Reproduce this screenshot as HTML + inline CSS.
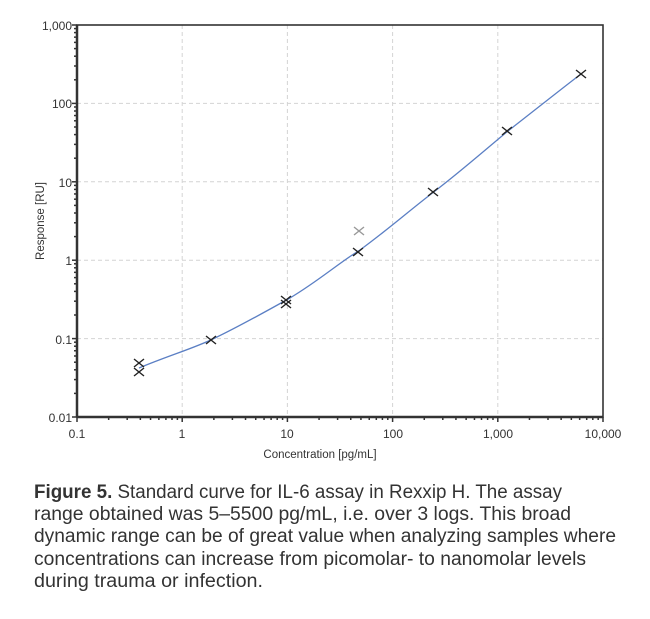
<!DOCTYPE html>
<html><head><meta charset="utf-8"><style>
body{margin:0;background:#fff;width:650px;height:619px;overflow:hidden}
svg{position:absolute;left:0;top:0}
</style></head><body>
<svg id="s" width="650" height="619" xmlns="http://www.w3.org/2000/svg" font-family="Liberation Sans, sans-serif">
<g id="grid" stroke="#d4d4d4" stroke-dasharray="4,3" stroke-width="1"></g>
<path d="M139,368 C170,355 195,348 215,338 C240,326 265,312 290,298 C320,280 340,262 360,250 C390,228 410,210 435,191 C460,172 485,150 508,131 C535,110 560,90 581,74" fill="none" stroke="#5b7fc4" stroke-width="1.3"/>
<g id="ticks" stroke="#333" stroke-width="1.5"></g>
<rect x="77" y="25" width="526" height="392" fill="none" stroke="#333" stroke-width="1.6"/>
<line x1="77" y1="25" x2="77" y2="417" stroke="#333" stroke-width="2.5"/>
<line x1="77" y1="417" x2="603" y2="417" stroke="#333" stroke-width="2.5"/>
<g id="pts" stroke="#222" stroke-width="1.4"></g>
<g font-size="12" fill="#333" text-anchor="end">
<text x="72" y="30">1,000</text><text x="72" y="108">100</text><text x="72" y="187">10</text><text x="72" y="265">1</text><text x="72" y="344">0.1</text><text x="72" y="422">0.01</text>
</g>
<g font-size="12" fill="#333" text-anchor="middle">
<text x="77" y="438">0.1</text><text x="182" y="438">1</text><text x="287" y="438">10</text><text x="393" y="438">100</text><text x="498" y="438">1,000</text><text x="603" y="438">10,000</text>
<text x="320" y="458" font-size="11.5">Concentration [pg/mL]</text>
<text transform="translate(44,221) rotate(-90)" font-size="11.5">Response [RU]</text>
</g>
<g font-size="19" fill="#333">
<text x="34" y="498" textLength="528" lengthAdjust="spacingAndGlyphs"><tspan font-weight="bold">Figure 5.</tspan> Standard curve for IL-6 assay in Rexxip H. The assay</text>
<text x="34" y="520" textLength="537" lengthAdjust="spacingAndGlyphs">range obtained was 5–5500 pg/mL, i.e. over 3 logs. This broad</text>
<text x="34" y="542" textLength="582" lengthAdjust="spacingAndGlyphs">dynamic range can be of great value when analyzing samples where</text>
<text x="34" y="565" textLength="552" lengthAdjust="spacingAndGlyphs">concentrations can increase from picomolar- to nanomolar levels</text>
<text x="34" y="587" textLength="229" lengthAdjust="spacingAndGlyphs">during trauma or infection.</text>
</g>
</svg>
<script>
var ns="http://www.w3.org/2000/svg";
function L(g,x1,y1,x2,y2,c){var l=document.createElementNS(ns,"line");l.setAttribute("x1",x1);l.setAttribute("y1",y1);l.setAttribute("x2",x2);l.setAttribute("y2",y2);if(c)l.setAttribute("stroke",c);document.getElementById(g).appendChild(l);}
var X0=77,DX=105.2,Y0=417,DY=78.4;
for(var i=1;i<5;i++){L("grid",X0+i*DX,25,X0+i*DX,417);L("grid",77,Y0-i*DY,603,Y0-i*DY);}
for(var d=0;d<5;d++){for(var k=1;k<10;k++){var f=Math.log10(k);var x=X0+(d+f)*DX;L("ticks",x,417,x,k==1?422:420);var y=Y0-(d+f)*DY;L("ticks",77,y,k==1?72:74,y);}}
L("ticks",603,417,603,422);L("ticks",77,25,72,25);
var P=[[139,363],[139,372],[211,340],[286,300],[286,304],[358,252],[433,192],[507,131],[581,74]];
P.forEach(function(p){L("pts",p[0]-5,p[1]-4,p[0]+5,p[1]+4);L("pts",p[0]-5,p[1]+4,p[0]+5,p[1]-4);});
L("pts",354,227,364,235,"#999");L("pts",354,235,364,227,"#999");
</script>
</body></html>
